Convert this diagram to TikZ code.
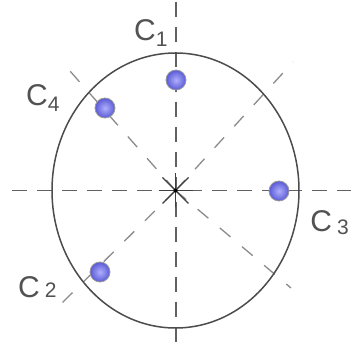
\documentclass[tikz,border=0pt]{standalone}
\usepackage{fontspec}
\setmainfont{Liberation Sans}
\begin{document}
\begin{tikzpicture}[x=1pt,y=-1pt,
  axis/.style={draw=black!62, line width=1.4pt, dash pattern=on 15pt off 10pt},
  diag/.style={draw=black!45, line width=1.3pt, dash pattern=on 14pt off 15pt},
  rim/.style={draw=black!70, line width=1.5pt},
  star/.style={draw=black!75, line width=1.2pt},
  ball/.style={circle, minimum size=20pt, inner sep=0pt, draw=black!40, line width=0.8pt,
    shading=radial, inner color={rgb,255:red,175;green,175;blue,252},
    outer color={rgb,255:red,90;green,90;blue,215}},
  lbl/.style={text=black!68, font=\fontsize{30}{32}\selectfont, inner sep=0pt}]
\useasboundingbox (0,0) rectangle (351,347);
\fill[white] (0,0) rectangle (351,347);
\coordinate (O) at (175.5,190.5);
% axes
\coordinate (T) at (176,2);
\coordinate (B) at (176,346);
\coordinate (L) at (12,190.5);
\coordinate (R) at (351,190.5);
\draw[axis] (T) -- (B);
\draw[axis] (L) -- (R);
% diagonals
\coordinate (UL) at (62,62);
\coordinate (UR) at (293,62);
\coordinate (LL) at (62,303);
\coordinate (LR) at (291,288);
\draw[diag] (O) -- (UL);
\draw[diag] (O) -- (UR);
\draw[diag] (O) -- (LL);
\draw[diag] (O) -- (LR);
% rim
\draw[rim] (O) ellipse [x radius=123.5, y radius=137.5];
% central star
\draw[star] (O) ++(-17,0) -- ++(34,0);
\draw[star] (O) ++(0,-17) -- ++(0,34);
\draw[star] (O) ++(-13,-13) -- ++(26,26);
\draw[star] (O) ++(-13,13) -- ++(26,-26);
\fill[black] (O) circle (2pt);
% balls
\node[ball] (c1) at (176,80) {};
\node[ball] (c4) at (105,108) {};
\node[ball] (c3) at (279,191) {};
\node[ball] (c2) at (100,272) {};
% labels
\node[lbl, anchor=base west] (l1) at (134,41) {C\textsubscript{1}};
\node[lbl, anchor=base west] (l4) at (26,106) {C\textsubscript{4}};
\node[lbl, anchor=base west] (l2) at (18,298) {C\,{\fontsize{21}{22}\selectfont 2}};
\node[lbl, anchor=base east] (l3) at (349,232) {C\,\raisebox{-3pt}{\fontsize{21}{22}\selectfont 3}};
\end{tikzpicture}
\end{document}
